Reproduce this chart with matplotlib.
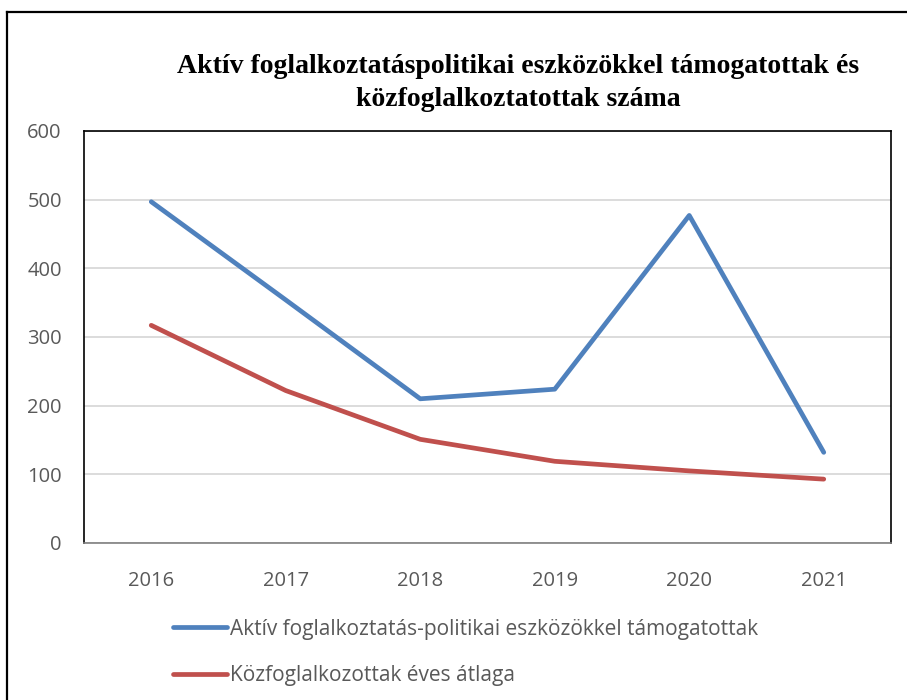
import matplotlib
matplotlib.use("Agg")
import matplotlib.pyplot as plt
from matplotlib.lines import Line2D

years = ["2016", "2017", "2018", "2019", "2020", "2021"]
aktiv = [497, 354, 210, 224, 477, 132]
kozfogl = [317, 222, 151, 119, 105, 93]
series_names = ["Aktív foglalkoztatás-politikai eszközökkel támogatottak",
                "Közfoglalkozottak éves átlaga"]
title_lines = ["Aktív foglalkoztatáspolitikai eszközökkel támogatottak és",
               "közfoglalkoztatottak száma"]
yticks = [0, 100, 200, 300, 400, 500, 600]

W, H = 907, 700
fig = plt.figure(figsize=(W / 100, H / 100), dpi=100)
sans = ["Open Sans", "DejaVu Sans"]

ax = fig.add_axes([84 / W, 1 - 543 / H, (891 - 84) / W, (543 - 131) / H])
x = list(range(len(years)))
blue, red = "#4F81BD", "#C0504D"
ax.plot(x, aktiv, color=blue, lw=3.4, solid_capstyle="round", solid_joinstyle="round")
ax.plot(x, kozfogl, color=red, lw=3.4, solid_capstyle="round", solid_joinstyle="round")

ax.set_xlim(-0.5, len(years) - 0.5)
ax.set_ylim(0, 600)
ax.set_yticks(yticks)
ax.set_yticklabels([str(v) for v in yticks])
ax.set_xticks(x)
ax.set_xticklabels(years)
ax.grid(axis="y", color="#D9D9D9", lw=1.3)
ax.set_axisbelow(True)
ax.tick_params(axis="both", length=0, labelcolor="#595959", labelsize=14.5)
ax.tick_params(axis="y", pad=16)
ax.tick_params(axis="x", pad=20)
for lab in ax.get_xticklabels() + ax.get_yticklabels():
    lab.set_family(sans)
for s in ["left", "top", "right"]:
    ax.spines[s].set_color("black")
    ax.spines[s].set_linewidth(1.2)
ax.spines["bottom"].set_color("#808080")
ax.spines["bottom"].set_linewidth(1.2)

for line, base in zip(title_lines, [73, 106]):
    fig.text(518 / W, 1 - base / H, line, ha="center", va="baseline",
             family="Liberation Serif", fontweight="bold", fontsize=20,
             color="black")

# legend
handles = [Line2D([0], [0], color=blue, lw=3.4, solid_capstyle="round"),
           Line2D([0], [0], color=red, lw=3.4, solid_capstyle="round")]
leg = fig.legend(handles, series_names, loc="upper left",
                 bbox_to_anchor=(154 / W, 1 - 600 / H), frameon=False,
                 prop={"family": sans, "size": 15}, labelcolor="#595959",
                 handlelength=2.6, handletextpad=0.15, labelspacing=1.22)

# outer border
fig.add_artist(Line2D([7 / W, 7 / W], [0, 1 - 12 / H], color="black", lw=1.6,
                      transform=fig.transFigure))
fig.add_artist(Line2D([7 / W, 1], [1 - 12 / H, 1 - 12 / H], color="black", lw=1.6,
                      transform=fig.transFigure))

fig.savefig("out.png", dpi=100)
